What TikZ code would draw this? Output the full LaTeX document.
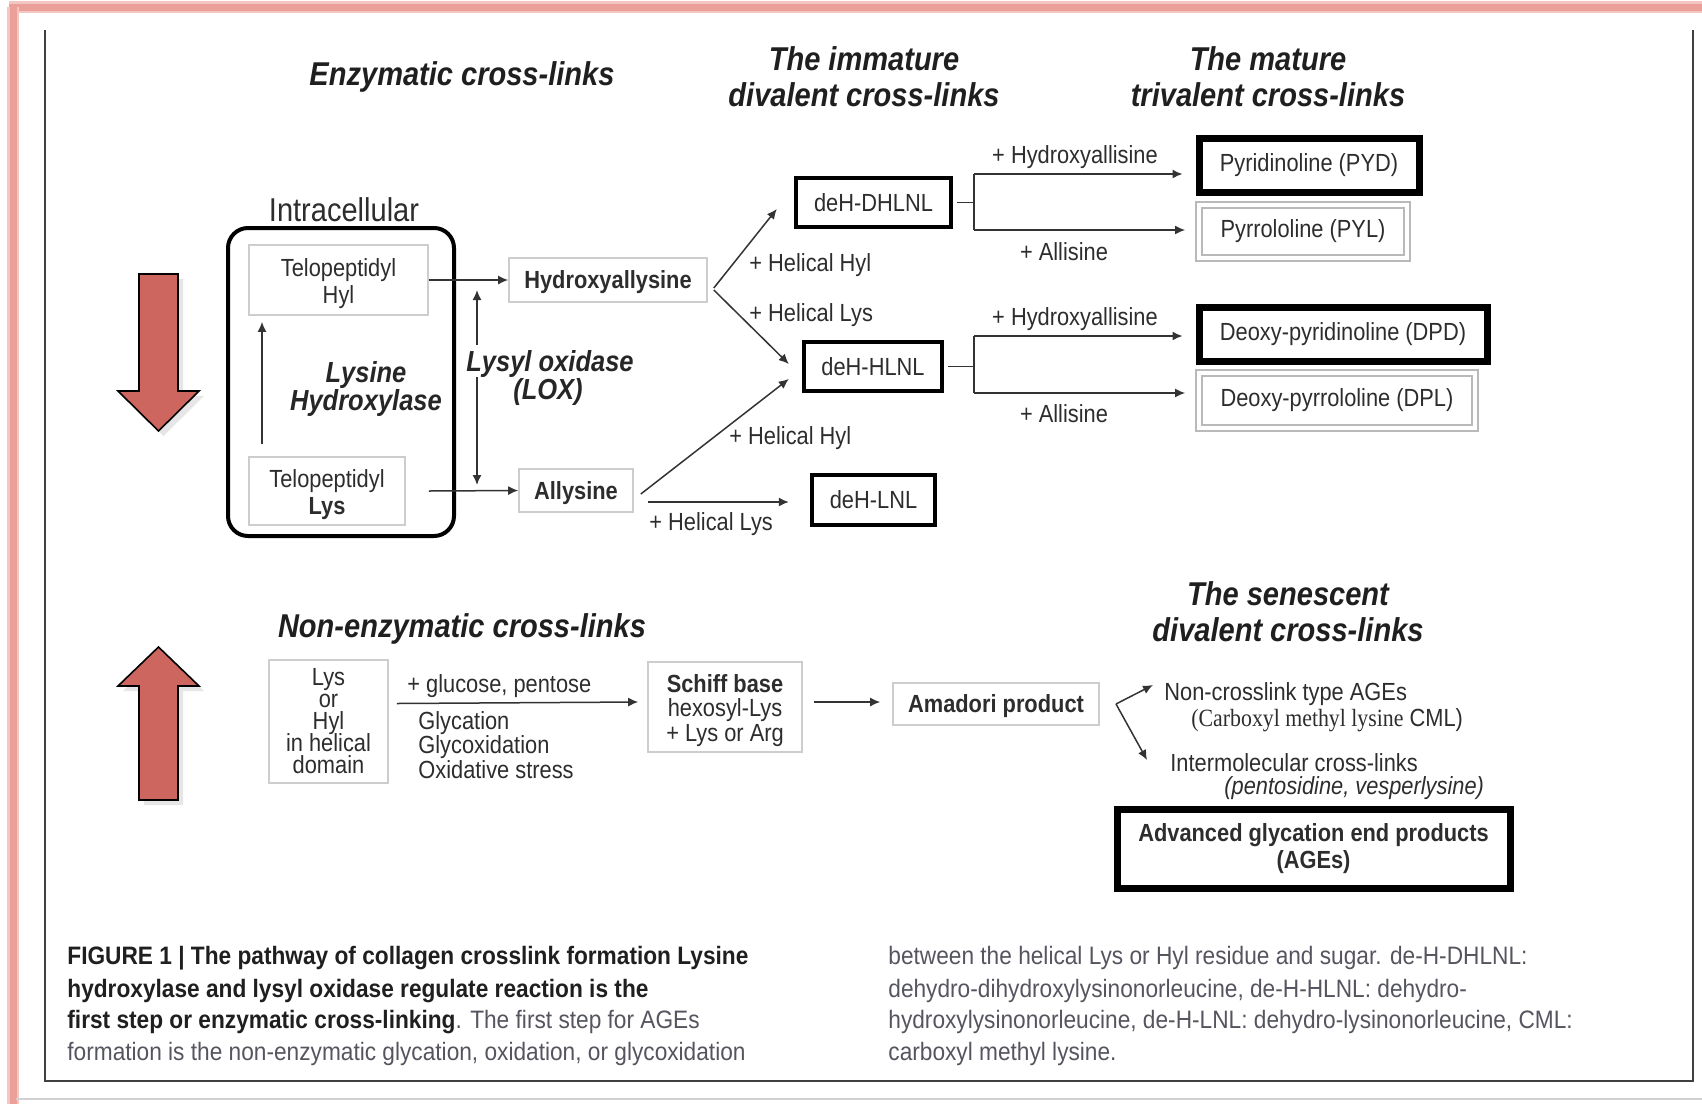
\documentclass[tikz,border=0pt]{standalone}
\usepackage{fontspec}
\setmainfont{Liberation Sans}[FakeStretch=0.88]
\newfontfamily\capfont{Liberation Sans}[FakeStretch=0.90]
\newfontfamily\cmlserif{Liberation Serif}[FakeStretch=0.88]
\usetikzlibrary{arrows.meta,shadows,calc}
\definecolor{redarrow}{RGB}{205,102,95}
\definecolor{pinkframe}{RGB}{234,160,152}
\definecolor{txt}{RGB}{45,45,45}
\definecolor{captxt}{RGB}{85,85,95}
\definecolor{lightbox}{RGB}{205,205,205}
\newcommand\myfs[2]{\fontsize{#1}{#2}\selectfont}
\newcommand\upstrut{\rule{0pt}{12.3pt}}
\newcommand\tightls{\lineskiplimit=-6pt\relax}
\begin{document}
\begin{tikzpicture}[x=0.5pt,y=-0.5pt,
  title/.style={font=\myfs{16.5}{18}\bfseries\itshape, align=center, text=black!88, inner sep=0pt},
  nodepth/.style={text depth=0pt},
  lbl/.style={font=\myfs{12.4}{13.5}, text=txt, inner sep=0pt},
  thinbox/.style={draw=lightbox, line width=0.8pt, fill=white, inner sep=0pt, align=center, text=txt, font=\myfs{12.4}{13.5}},
  thickbox/.style={draw=black, line width=2.2pt, inner sep=0pt, align=center, text=txt, font=\myfs{12.4}{13.5}},
  heavybox/.style={thickbox, line width=3.5pt},
  dblbox/.style={draw=gray!55, line width=0.9pt, double=white, double distance=2pt, inner sep=0pt, align=center, text=txt, font=\myfs{12.4}{13.5}},
  arr/.style={draw=black!80, line width=0.75pt, -{Latex[length=5pt,width=4.5pt]}},
  plain/.style={draw=black!80, line width=0.75pt},
  bigarrow/.style={fill=redarrow, draw=black, line width=0.8pt, line join=miter, drop shadow={opacity=0.2, shadow xshift=2.5pt, shadow yshift=-2.5pt}},
  captext/.style={font=\capfont\myfs{12.6}{14}, anchor=west, inner sep=0pt, text=captxt, text depth=0pt}
]
\useasboundingbox (0,0) rectangle (1702,1104);
% outer pink frame
\draw[pinkframe!60, line width=6pt] (9,7) -- (1702,7);
\draw[pinkframe, line width=3.5pt] (9,7) -- (1702,7);
\draw[pinkframe!60, line width=6pt] (13,7) -- (13,1104);
\draw[pinkframe, line width=3.5pt] (13,7) -- (13,1104);
\draw[black!18, line width=1pt] (16,1099) -- (1702,1099);
% inner frame
\draw[black!75, line width=1pt] (45,30) -- (45,1081) -- (1693,1081) -- (1693,30);

% red arrows
\draw[bigarrow] (139,274) -- (178,274) -- (178,391) -- (199,391) -- (158.5,431) -- (118,391) -- (139,391) -- cycle;
\draw[bigarrow] (139,800) -- (178,800) -- (178,686) -- (199,686) -- (158.5,647) -- (118,686) -- (139,686) -- cycle;

% titles
\node[title, nodepth] (tenz) at (462,74) {Enzymatic cross-links};
\node[title] (timm) at (864,77) {The immature\\divalent cross-links};
\node[title] (tmat) at (1268,77) {The mature\\trivalent cross-links};
\node[title, nodepth] (tnon) at (462,626) {Non-enzymatic cross-links};
\node[title] (tsen) at (1288,612) {The senescent\\divalent cross-links};

% intracellular
\node[font=\myfs{16.5}{18}, text=txt, inner sep=0pt] (intralbl) at (344,210) {Intracellular};
\node[draw=black, line width=2pt, rounded corners=10pt, minimum width=113pt, minimum height=154pt] (intra) at (341,382) {};
\node[thinbox, minimum width=89.5pt, minimum height=35pt] (telhyl) at (338.5,280) {\upstrut Telopeptidyl\\Hyl};
\node[thinbox, minimum width=78pt, minimum height=34pt] (tellys) at (327,491) {\upstrut Telopeptidyl\\\textbf{Lys}};
\node[font=\myfs{14.5}{14}\bfseries\itshape, align=center, text=black!85, inner sep=0pt] (lh) at (366,389) {Lysine\\Hydroxylase};
\coordinate (lhx) at (262,0);
\draw[arr] ([yshift=6pt]tellys.north -| lhx) -- ([yshift=-3pt]telhyl.south -| lhx);

% first products
\node[thinbox, nodepth, font=\myfs{12.4}{13.5}\bfseries, minimum width=99pt, minimum height=22pt] (hyal) at (608,280) {Hydroxyallysine};
\node[thinbox, nodepth, font=\myfs{12.4}{13.5}\bfseries, minimum width=57pt, minimum height=21.5pt] (allys) at (576,490.5) {Allysine};
\draw[arr] (telhyl.east) -- (hyal.west);
\draw[arr] ([xshift=11.5pt]tellys.east) -- (allys.west);

% LOX
\coordinate (loxtop) at (477,290);
\coordinate (loxbot) at (477,485);
\draw[arr, {Latex[length=5pt,width=4.5pt]}-{Latex[length=5pt,width=4.5pt]}] (loxtop) -- (loxbot);
\node[font=\myfs{14.5}{14}\bfseries\itshape, text=black!85, fill=white, inner xsep=1pt, inner ysep=0pt, minimum height=16pt, nodepth] (lox) at (550,361) {Lysyl oxidase};
\node[font=\myfs{14.5}{14}\bfseries\itshape, text=black!85, inner sep=0pt, nodepth] (loxab) at (548,389) {(LOX)};

% immature
\node[thickbox, minimum width=77.5pt, minimum height=24.5pt] (dhlnl) at (873.5,202.5) {deH-DHLNL};
\node[thickbox, minimum width=69pt, minimum height=24.5pt] (hlnl) at (873,366.5) {deH-HLNL};
\node[thickbox, minimum width=61.5pt, minimum height=25pt] (lnl) at (873.5,500) {deH-LNL};
\draw[arr] ([xshift=3pt,yshift=-4pt]hyal.east) -- ([xshift=-8.5pt,yshift=-3.25pt]dhlnl.west);
\draw[arr] ([xshift=3pt,yshift=-5pt]hyal.east) -- ([xshift=-6.5pt,yshift=1.25pt]hlnl.west);
\draw[arr] ([xshift=3.5pt,yshift=-1.75pt]allys.east) -- ([xshift=-6.5pt,yshift=-6.25pt]hlnl.west);
\draw[arr] ([xshift=7pt,yshift=-5.75pt]allys.east) -- ([xshift=-10.5pt,yshift=-5.75pt]allys.east -| lnl.west);
\node[lbl, nodepth, anchor=west] (l1) at (749,263) {+ Helical Hyl};
\node[lbl, nodepth, anchor=west] (l2) at (749,313) {+ Helical Lys};
\node[lbl, nodepth, anchor=west] (l3) at (729,436) {+ Helical Hyl};
\node[lbl, nodepth, anchor=west] (l4) at (649,522) {+ Helical Lys};

% mature
\node[heavybox, minimum width=110pt, minimum height=27pt] (pyd) at (1309,165) {Pyridinoline (PYD)};
\node[dblbox, minimum width=104pt, minimum height=26.5pt] (pyl) at (1303,231.5) {Pyrrololine (PYL)};
\node[heavybox, minimum width=144pt, minimum height=27pt] (dpd) at (1343,334) {Deoxy-pyridinoline (DPD)};
\node[dblbox, minimum width=138pt, minimum height=27.5pt] (dpl) at (1337,400.5) {Deoxy-pyrrololine (DPL)};

\coordinate (b1t) at (974,174);
\coordinate (b1b) at (974,230);
\draw[plain] ([xshift=2pt]dhlnl.east) -- (b1t |- dhlnl.east);
\draw[plain] (b1t) -- (b1b);
\draw[arr] (b1t) -- ([xshift=-6.5pt]pyd.west |- b1t);
\draw[arr] (b1b) -- ([xshift=-6.5pt]pyl.west |- b1b);
\coordinate (b2t) at (974,336);
\coordinate (b2b) at (974,393);
\draw[plain] ([xshift=2pt]hlnl.east) -- (b2t |- hlnl.east);
\draw[plain] (b2t) -- (b2b);
\draw[arr] (b2t) -- ([xshift=-6.5pt]dpd.west |- b2t);
\draw[arr] (b2b) -- ([xshift=-6.5pt]dpl.west |- b2b);
\node[lbl, nodepth] (hx1) at (1075,155) {+ Hydroxyallisine};
\node[lbl] (al1) at (1064,252) {+ Allisine};
\node[lbl, nodepth] (hx2) at (1075,317) {+ Hydroxyallisine};
\node[lbl] (al2) at (1064,414) {+ Allisine};

% non-enzymatic
\node[thinbox, font=\myfs{12.4}{11}\tightls, minimum width=59.5pt, minimum height=61.5pt] (lyshyl) at (328.5,721.5) {Lys\\or\\Hyl\\in helical\\domain};
\node[thinbox, font=\myfs{12.4}{12.3}, minimum width=77pt, minimum height=45pt] (schiff) at (725,707) {\upstrut\textbf{Schiff base}\\hexosyl-Lys\\+ Lys or Arg};
\node[thinbox, nodepth, font=\myfs{12.4}{13.5}\bfseries, minimum width=103pt, minimum height=21pt] (amadori) at (996,704) {Amadori product};
\draw[arr] ([xshift=4pt,yshift=9pt]lyshyl.east) -- ([xshift=-4.5pt]schiff.west |- 0,702);
\node[lbl, nodepth, anchor=west] (glu) at (407,684) {+ glucose, pentose};
\node[lbl, anchor=north west, align=left, font=\myfs{12.4}{12.3}] (gly) at (418,711) {Glycation\\Glycoxidation\\Oxidative stress};
\draw[arr] ([xshift=5.5pt]schiff.east |- 0,702) -- ([xshift=-6pt]amadori.west |- 0,702);

\coordinate (vx) at (1116,704);
\coordinate (up) at (1153,685);
\coordinate (dn) at (1147,760);
\draw[arr] (vx) -- (up);
\draw[arr] (vx) -- (dn);
\node[lbl, anchor=north west, align=left, font=\myfs{12.4}{13}\tightls] (nc) at (1164,682) {Non-crosslink type AGEs\\\hspace*{13.5pt}{\cmlserif (Carboxyl methyl lysine} CML)};
\node[lbl, anchor=north west, align=left, font=\myfs{12.4}{11.5}\tightls] (im) at (1170,753) {Intermolecular cross-links\\\hspace*{27pt}\textit{(pentosidine, vesperlysine)}};
\node[heavybox, font=\myfs{12.4}{13.5}\bfseries, minimum width=196.5pt, minimum height=39.5pt] (ages) at (1313.5,848.5) {Advanced glycation end products\\(AGEs)};

% caption
\node[captext, text=black!88] (c1) at (67,955) {\bfseries FIGURE 1 | The pathway of collagen crosslink formation Lysine};
\node[captext, text=black!88] (c2) at (67,988) {\bfseries hydroxylase and lysyl oxidase regulate reaction is the};
\node[captext] (c3) at (67,1019) {\textcolor{black!88}{\bfseries first step or enzymatic cross-linking}. The first step for AGEs};
\node[captext] (c4) at (67,1051) {formation is the non-enzymatic glycation, oxidation, or glycoxidation};
\node[captext] (c5) at (888,955) {between the helical Lys or Hyl residue and sugar. de-H-DHLNL:};
\node[captext] (c6) at (888,988) {dehydro-dihydroxylysinonorleucine, de-H-HLNL: dehydro-};
\node[captext] (c7) at (888,1019) {hydroxylysinonorleucine, de-H-LNL: dehydro-lysinonorleucine, CML:};
\node[captext] (c8) at (888,1051) {carboxyl methyl lysine.};
\end{tikzpicture}
\end{document}
